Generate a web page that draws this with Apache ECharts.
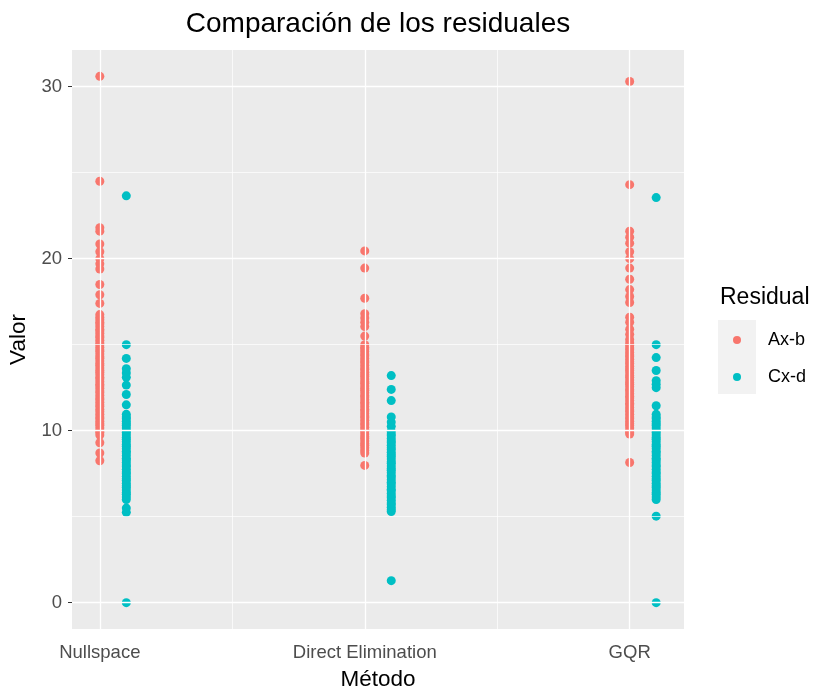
<!DOCTYPE html>
<html>
<head>
<meta charset="utf-8">
<script src="https://cdn.jsdelivr.net/npm/echarts@6/dist/echarts.min.js"></script>
<style>
  html, body { margin: 0; padding: 0; background: #fff; }
  #main { width: 814px; height: 689px; }
</style>
</head>
<body>
<div id="main"></div>
<script>
  // metodos en el eje x (posicion 1, 2, 3)
  var methods = ['Nullspace', 'Direct Elimination', 'GQR'];
  var residuals = ['Ax-b', 'Cx-d'];
  var yTicks = [0, 10, 20, 30];

  // valores (las columnas densas se solapan)
  var nsAx = [30.6, 24.5, 21.8, 21.6, 20.85, 20.4, 20.0, 19.7, 19.4, 18.5, 17.9, 17.4,
    16.75, 16.6, 16.45, 16.3, 16.2, 16.05, 15.9, 15.8, 15.65, 15.5, 15.4, 15.25, 15.1, 15.0, 14.85, 14.7, 14.6,
    14.45, 14.3, 14.2, 14.05, 13.9, 13.8, 13.65, 13.5, 13.4, 13.25, 13.1, 13.0, 12.85, 12.7, 12.6, 12.45, 12.3,
    12.2, 12.05, 11.9, 11.8, 11.65, 11.5, 11.4, 11.25, 11.1, 10.95, 10.8, 10.7, 10.55, 10.4, 10.3, 10.15, 10.0,
    9.9, 9.75, 9.3, 8.7, 8.25];
  var nsCx = [23.65, 15.0, 14.2, 13.6, 13.35, 13.1, 12.65, 12.1, 11.5,
    10.95, 10.8, 10.7, 10.55, 10.4, 10.3, 10.15, 10.0, 9.9, 9.75, 9.6, 9.5, 9.35, 9.2, 9.1, 8.95, 8.8, 8.7, 8.55,
    8.4, 8.3, 8.15, 8.0, 7.9, 7.75, 7.6, 7.5, 7.35, 7.2, 7.1, 6.95, 6.8, 6.7, 6.55, 6.4, 6.3, 6.15, 6.0,
    5.5, 5.25, 0.0];
  var deAx = [20.45, 19.45, 17.7, 16.8, 16.55, 16.3, 16.05, 15.5,
    15.0, 14.85, 14.75, 14.6, 14.45, 14.35, 14.2, 14.05, 13.95, 13.8, 13.65, 13.55, 13.4, 13.25, 13.15, 13.0,
    12.85, 12.75, 12.6, 12.45, 12.35, 12.2, 12.05, 11.95, 11.8, 11.65, 11.55, 11.4, 11.25, 11.15, 11.0, 10.85,
    10.75, 10.6, 10.45, 10.35, 10.2, 10.05, 9.95, 9.8, 9.65, 9.55, 9.4, 9.25, 9.15, 9.0, 8.85, 8.7, 7.98];
  var deCx = [13.2, 12.4, 11.75, 10.8, 10.5, 10.25,
    9.95, 9.8, 9.7, 9.55, 9.4, 9.3, 9.15, 9.0, 8.9, 8.75, 8.6, 8.5, 8.35, 8.2, 8.1, 7.95, 7.8, 7.7, 7.55, 7.4,
    7.3, 7.15, 7.0, 6.9, 6.75, 6.6, 6.5, 6.35, 6.2, 6.1, 5.95, 5.8, 5.7, 5.55, 5.4, 5.3, 1.28];
  var gqAx = [30.3, 24.3, 21.6, 21.25, 20.9, 20.4, 20.0, 19.45, 18.8, 18.2, 17.8, 17.45, 16.6, 16.3, 15.9, 15.6,
    15.3, 15.1, 14.95, 14.8, 14.7, 14.55, 14.4, 14.3, 14.15, 14.0, 13.9, 13.75, 13.6, 13.5, 13.35, 13.2, 13.1,
    12.95, 12.8, 12.7, 12.55, 12.4, 12.3, 12.15, 12.0, 11.9, 11.75, 11.6, 11.5, 11.35, 11.2, 11.1, 10.95, 10.8,
    10.7, 10.55, 10.4, 10.3, 10.15, 10.0, 9.9, 9.8, 8.15];
  var gqCx = [23.55, 15.0, 14.25, 13.5, 12.9, 12.7, 12.5, 11.45,
    10.95, 10.8, 10.7, 10.55, 10.4, 10.3, 10.15, 10.0, 9.9, 9.75, 9.6, 9.5, 9.35, 9.2, 9.1, 8.95, 8.8, 8.7, 8.55,
    8.4, 8.3, 8.15, 8.0, 7.9, 7.75, 7.6, 7.5, 7.35, 7.2, 7.1, 6.95, 6.8, 6.7, 6.55, 6.4, 6.3, 6.15, 6.0,
    5.03, 0.0];

  var axValues = [nsAx, deAx, gqAx];
  var cxValues = [nsCx, deCx, gqCx];
  var cxShift = 0.1; // Cx-d desplazado a la derecha

  function toPoints(groups, shift) {
    var res = [];
    for (var i = 0; i < groups.length; i++) {
      for (var j = 0; j < groups[i].length; j++) {
        res.push([i + 1 + shift, groups[i][j]]);
      }
    }
    return res;
  }

  var font = 'Liberation Sans, Arial, sans-serif';
  var major = { color: '#ffffff', width: 1.3, type: 'solid' };
  var minor = { color: '#ffffff', width: 0.7, type: 'solid' };

  var gridLines = [];
  [1, 2, 3].forEach(function (v) { gridLines.push({ xAxis: v, lineStyle: major }); });
  [1.5, 2.5].forEach(function (v) { gridLines.push({ xAxis: v, lineStyle: minor }); });
  yTicks.forEach(function (v) { gridLines.push({ yAxis: v, lineStyle: major }); });
  [5, 15, 25].forEach(function (v) { gridLines.push({ yAxis: v, lineStyle: minor }); });

  var chart = echarts.init(document.getElementById('main'));
  var option = {
    animation: false,
    backgroundColor: '#ffffff',
    title: {
      text: 'Comparación de los residuales',
      left: 373,
      top: 5,
      textAlign: 'center',
      textStyle: { fontFamily: font, fontSize: 28, fontWeight: 'normal', color: '#000' }
    },
    grid: {
      left: 72, top: 50, right: 130, bottom: 60,
      outerBoundsMode: 'none',
      containLabel: false,
      show: true, backgroundColor: '#EBEBEB', borderWidth: 0
    },
    legend: {
      data: residuals,
      orient: 'vertical',
      left: 728,
      top: 326,
      icon: 'circle',
      itemWidth: 38,
      itemHeight: 8,
      itemGap: 19,
      z: 5,
      textStyle: { fontFamily: font, fontSize: 18, color: '#000', padding: [0, 0, 0, 7] }
    },
    graphic: [
      { type: 'rect', left: 718, top: 320, shape: { width: 38, height: 74 }, style: { fill: '#F2F2F2' }, z: 0 },
      { type: 'text', left: 720, top: 286, style: { text: 'Residual', font: '23px ' + font, fill: '#000' } }
    ],
    xAxis: {
      type: 'value',
      min: 0.895,
      max: 3.205,
      name: 'Método',
      nameLocation: 'middle',
      nameGap: 39,
      nameTextStyle: { fontFamily: font, fontSize: 22.5, color: '#000' },
      axisLine: { show: false },
      splitLine: { show: false },
      axisTick: { show: true, customValues: [1, 2, 3], length: 4, lineStyle: { color: '#333' } },
      axisLabel: {
        customValues: [1, 2, 3],
        margin: 14,
        fontFamily: font, fontSize: 18.5, color: '#4D4D4D',
        formatter: function (v) { return methods[Math.round(v) - 1]; }
      }
    },
    yAxis: {
      type: 'value',
      min: -1.53,
      max: 32.13,
      name: 'Valor',
      nameLocation: 'middle',
      nameGap: 38,
      nameTextStyle: { fontFamily: font, fontSize: 22.5, color: '#000' },
      axisLine: { show: false },
      splitLine: { show: false },
      axisTick: { show: true, customValues: yTicks, length: 4, lineStyle: { color: '#333' } },
      axisLabel: {
        customValues: yTicks,
        margin: 10,
        fontFamily: font, fontSize: 18.5, color: '#4D4D4D'
      }
    },
    series: [
      {
        name: 'grid',
        type: 'scatter',
        data: [],
        silent: true,
        z: 1,
        markLine: { silent: true, symbol: 'none', label: { show: false }, data: gridLines }
      },
      {
        name: 'Ax-b',
        type: 'scatter',
        symbolSize: 9,
        z: 3,
        itemStyle: { color: '#F8766D', opacity: 1 },
        data: toPoints(axValues, 0)
      },
      {
        name: 'Cx-d',
        type: 'scatter',
        symbolSize: 9,
        z: 3,
        itemStyle: { color: '#00BFC4', opacity: 1 },
        data: toPoints(cxValues, cxShift)
      }
    ]
  };
  chart.setOption(option);
</script>
</body>
</html>
